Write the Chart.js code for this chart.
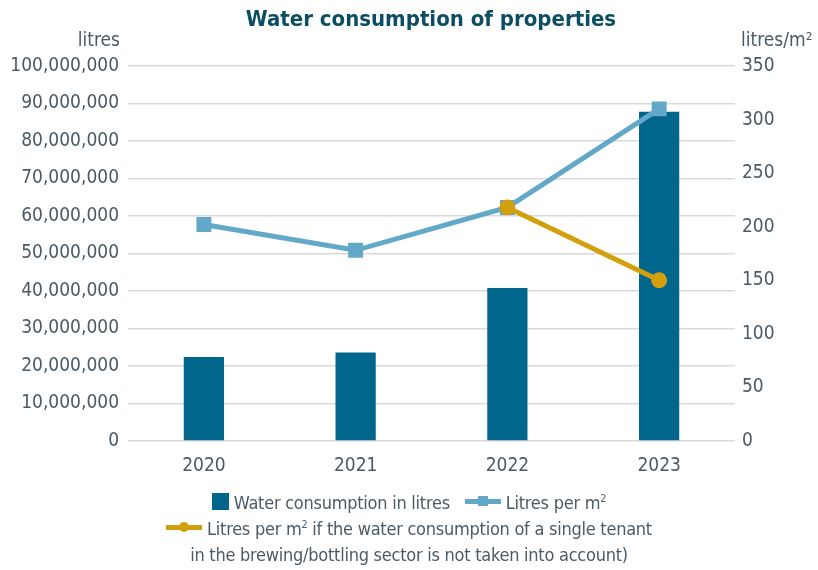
<!DOCTYPE html>
<html>
<head>
<meta charset="utf-8">
<script src="https://cdn.jsdelivr.net/npm/chart.js@4.4.1/dist/chart.umd.min.js"></script>
<style>
  html, body { margin: 0; padding: 0; background: #fff; }
  #wrap { position: relative; width: 818px; height: 570px; }
  #chart { position: absolute; left: 0; top: 0; }
  #legend {
    position: absolute; left: 0; top: 490px; width: 818px;
    font-family: "DejaVu Sans Condensed", "Liberation Sans Narrow", sans-serif;
    font-size: 18px; letter-spacing: -0.25px; color: #4a5a66; text-align: center; line-height: 26px;
  }
  #legend .row { white-space: nowrap; }
  #legend .box { display: inline-block; width: 17px; height: 17px; background: #00668c; vertical-align: -1px; margin-right: 5px; }
  #legend .ln { display: inline-block; position: relative; width: 36px; height: 5px; vertical-align: 5px; margin: 0 5px 0 10px; }
  #legend .ln i { position: absolute; left: 13px; top: -3px; width: 10px; height: 10px; }
  #legend .blue { background: #62a8c8; }
  #legend .blue i { background: #62a8c8; }
  #legend .gold { background: #d1a00c; margin-left: 0; }
  #legend .gold i { background: #d1a00c; border-radius: 50%; }
  sup { font-size: 60%; line-height: 0; vertical-align: 7px; }
</style>
</head>
<body>
<div id="wrap">
  <canvas id="chart" width="818" height="570"></canvas>
  <div id="legend">
    <div class="row"><span class="box"></span>Water consumption in litres <span class="ln blue"><i></i></span>Litres per m<sup>2</sup></div>
    <div class="row"><span class="ln gold"><i></i></span>Litres per m<sup>2</sup> if the water consumption of a single tenant</div>
    <div class="row">in the brewing/bottling sector is not taken into account)</div>
  </div>
</div>
<script>
const years = ['2020', '2021', '2022', '2023'];
const litres = [22400000, 23600000, 40800000, 87800000];
const litresPerM2 = [202, 178, 218, 310];
const litresPerM2NoBrewery = [null, null, 218, 150];

const FONT = '"DejaVu Sans Condensed", "Liberation Sans Narrow", sans-serif';
const TEXT = '#4a5a66';

// title and the two axis captions sit outside the chart area
const captions = {
    id: 'captions',
    afterDraw(chart) {
        const ctx = chart.ctx;
        const area = chart.chartArea;
        ctx.save();
        ctx.fillStyle = '#0b4d63';
        ctx.font = 'bold 22px ' + FONT;
        ctx.textAlign = 'center';
        ctx.textBaseline = 'middle';
        ctx.fillText('Water consumption of properties', 431, 20);

        ctx.fillStyle = TEXT;
        ctx.font = '19px ' + FONT;
        ctx.textAlign = 'right';
        ctx.fillText('litres', area.left - 8, area.top - 25);
        ctx.textAlign = 'left';
        ctx.fillText('litres/m\u00b2', area.right + 6, area.top - 25);
        ctx.restore();
    }
};

new Chart(document.getElementById('chart'), {
    type: 'bar',
    data: {
        labels: years,
        datasets: [
            {
                type: 'line',
                label: 'Litres per m\u00b2 if the water consumption of a single tenant in the brewing/bottling sector is not taken into account)',
                data: litresPerM2NoBrewery,
                yAxisID: 'y2',
                borderColor: '#d1a00c',
                backgroundColor: '#d1a00c',
                borderWidth: 5,
                pointStyle: 'circle',
                pointRadius: 5.5,
                pointHoverRadius: 5.5,
                order: 1
            },
            {
                type: 'line',
                label: 'Litres per m\u00b2',
                data: litresPerM2,
                yAxisID: 'y2',
                borderColor: '#62a8c8',
                backgroundColor: '#62a8c8',
                borderWidth: 5,
                pointStyle: 'rect',
                pointRadius: 7,
                pointHoverRadius: 7,
                order: 2
            },
            {
                label: 'Water consumption in litres',
                data: litres,
                yAxisID: 'y',
                backgroundColor: '#00668c',
                barPercentage: 0.53,
                categoryPercentage: 0.5,
                order: 3
            }
        ]
    },
    options: {
        responsive: false,
        animation: false,
        layout: { padding: { top: 66, bottom: 89, left: 0, right: 0 } },
        plugins: {
            legend: { display: false },
            title: { display: false },
            tooltip: { enabled: false }
        },
        scales: {
            x: {
                grid: { display: false },
                border: { display: false },
                ticks: { color: TEXT, font: { family: FONT, size: 19 }, padding: 6 },
                afterFit: s => { s.height = 40; }
            },
            y: {
                position: 'left',
                min: 0,
                max: 100000000,
                ticks: {
                    stepSize: 10000000,
                    color: TEXT,
                    font: { family: FONT, size: 19 },
                    padding: 9,
                    callback: v => v.toLocaleString('en-US')
                },
                grid: { color: '#d9d9d9', lineWidth: 1.6, drawTicks: false },
                border: { display: false },
                afterFit: s => { s.width = 128; }
            },
            y2: {
                position: 'right',
                min: 0,
                max: 350,
                ticks: {
                    stepSize: 50,
                    color: TEXT,
                    font: { family: FONT, size: 19 },
                    padding: 7
                },
                grid: { display: false, drawTicks: false },
                border: { display: false },
                afterFit: s => { s.width = 83; }
            }
        }
    },
    plugins: [captions]
});
</script>
</body>
</html>
